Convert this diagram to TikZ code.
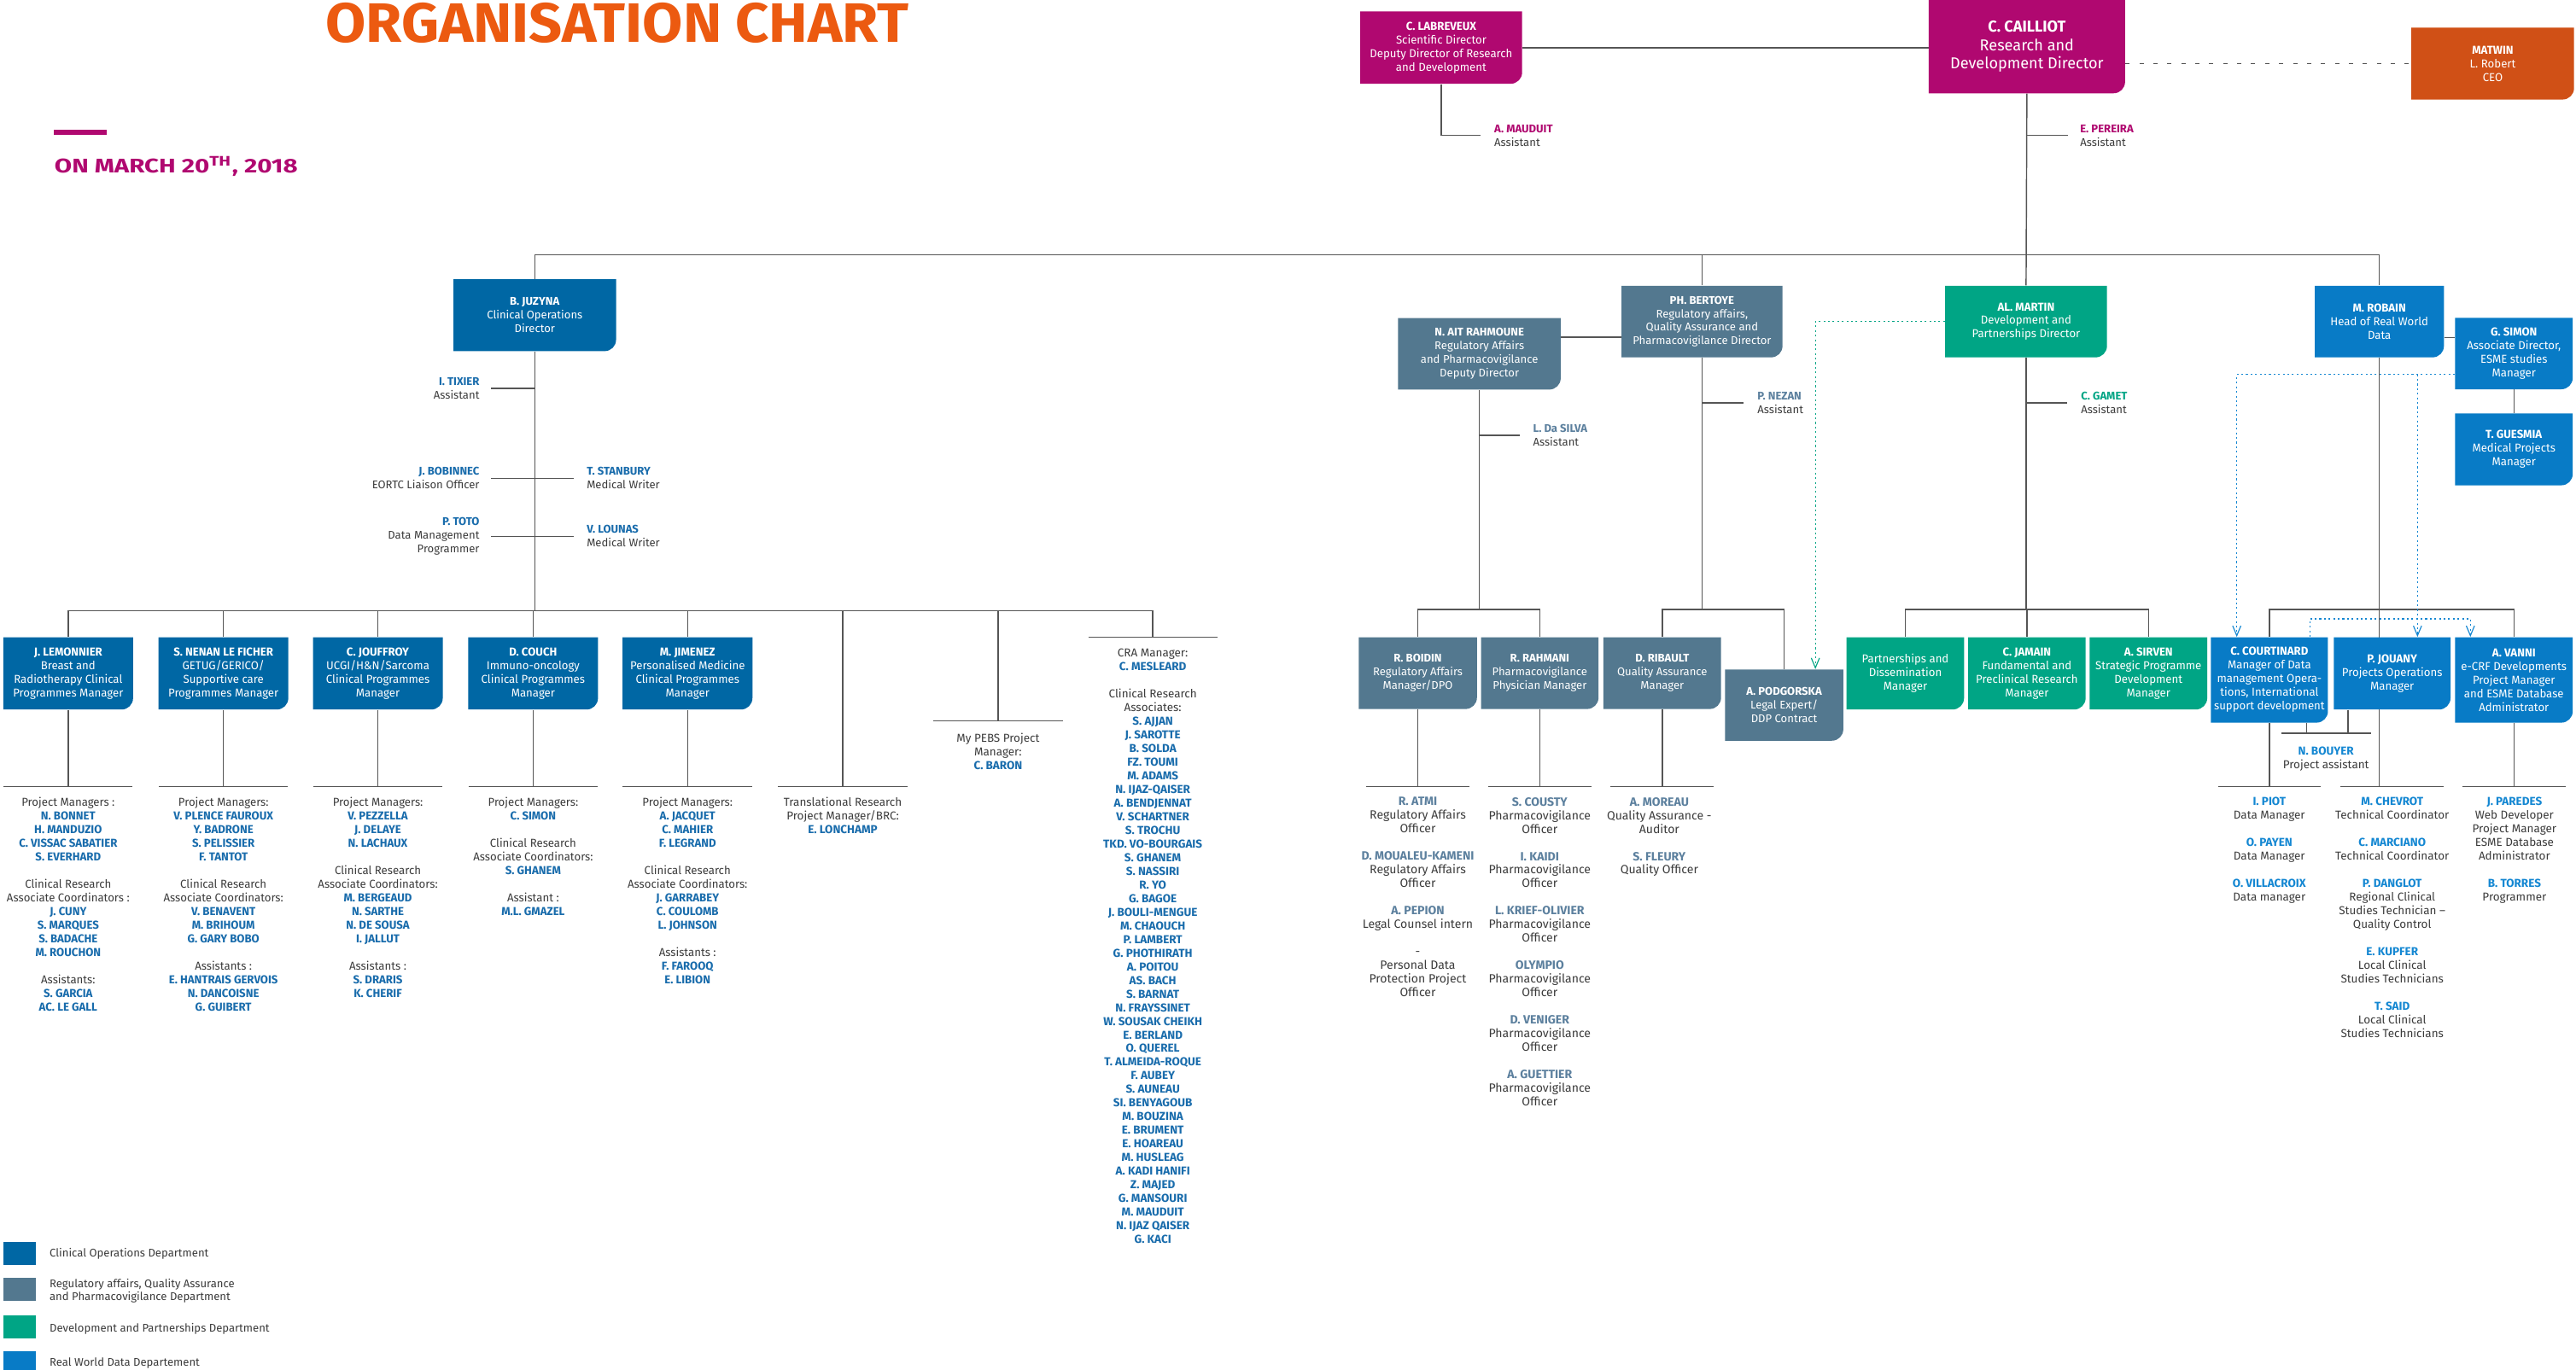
\documentclass[tikz,border=0pt]{standalone}
\usepackage{fontspec}
\usepackage{graphicx}
\setmainfont{Fira Sans}
\newfontfamily\condfont[FakeStretch=0.98]{Fira Sans}
\newfontfamily\headfont[FakeStretch=0.84]{Fira Sans}
\usetikzlibrary{arrows.meta}

\definecolor{magbox}{RGB}{176,8,112}
\definecolor{matwinbox}{RGB}{208,80,22}
\definecolor{titleorange}{RGB}{236,90,16}
\definecolor{clinbox}{RGB}{0,103,164}
\definecolor{regbox}{RGB}{83,120,143}
\definecolor{devbox}{RGB}{0,165,133}
\definecolor{rwdbox}{RGB}{8,123,198}
\definecolor{clinname}{RGB}{25,108,172}
\definecolor{regname}{RGB}{92,128,158}
\definecolor{rwdname}{RGB}{20,135,210}
\definecolor{labelgray}{RGB}{60,60,60}
\definecolor{linegray}{RGB}{85,85,85}

% coloured names in the lists
\newcommand\cn[1]{{\bfseries\color{clinname}#1}}
\newcommand\rn[1]{{\bfseries\color{regname}#1}}
\newcommand\gn[1]{{\bfseries\color{devbox}#1}}
\newcommand\wn[1]{{\bfseries\color{rwdname}#1}}
\newcommand\pn[1]{{\bfseries\color{magbox}#1}}

% box with a rounded lower right corner: name, x1, y1, x2, y2, colour, style, text
\newcommand\orgbox[8]{%
  \fill[#6] (#2,#3) -- (#4,#3) -- (#4,#5-7) .. controls (#4,#5-3.1) and (#4-3.1,#5) .. (#4-7,#5) -- (#2,#5) -- cycle;
  \node[#7, minimum width={(#4-#2)*1pt}, minimum height={(#5-#3)*1pt}] (#1) at ({(#2+#4)/2},{(#3+#5)/2}) {#8};
}

\pgfdeclarelayer{bg}
\pgfdeclarelayer{conn}
\pgfsetlayers{bg,conn,main}

\tikzset{
  conn/.style={draw=linegray, line width=0.75pt},
  devdot/.style={draw=devbox, line width=0.6pt, dash pattern=on 1.1pt off 1.7pt, -{Straight Barb[length=6pt,width=5pt]}},
  rwddot/.style={draw=rwdname, line width=0.6pt, dash pattern=on 1.1pt off 1.7pt},
  rwdarrow/.style={rwddot, -{Straight Barb[length=6pt,width=5pt]}},
  bx/.style={text=white, align=center, inner sep=0pt, font=\condfont\fontsize{7}{8.3}\selectfont},
  bxr/.style={bx, font=\fontsize{6.8}{8.3}\selectfont},
  lst/.style={anchor=north, align=center, inner sep=0pt, text=labelgray, font=\condfont\fontsize{7}{8.3}\selectfont},
  lstr/.style={lst, font=\fontsize{7}{8.3}\selectfont},
  lstreg/.style={lst, font=\fontsize{7.3}{8.3}\selectfont},
  asst/.style={inner sep=0pt, text=labelgray, font=\fontsize{6.8}{8.3}\selectfont},
  legtxt/.style={inner sep=0pt, anchor=west, align=left, text=labelgray, font=\fontsize{6.8}{8.2}\selectfont},
}

\begin{document}
\begin{tikzpicture}[x=1pt, y=-1pt]
\useasboundingbox (0,0) rectangle (1568,834);
\begin{pgfonlayer}{bg}
  \fill[white] (0,0) rectangle (1568,834);
\end{pgfonlayer}

% heading
\node[anchor=north west, inner sep=0pt] (title) at (198,1.7)
  {\resizebox{355pt}{24pt}{\color{titleorange}\headfont\bfseries ORGANISATION CHART}};
\fill[magbox] (33,78.8) rectangle (65,82);
\node[anchor=north west, inner sep=0pt] (date) at (33,95)
  {\resizebox{148pt}{10.2pt}{\color{magbox}\headfont\bfseries ON MARCH 20\textsuperscript{TH}, 2018}};

% direction
\orgbox{labreveux}{828}{7}{926.5}{51}{magbox}{bx}{\textbf{C. LABREVEUX}\\Scientific Director\\Deputy Director of Research\\and Development}
\orgbox{cailliot}{1174}{0}{1293.5}{56.8}{magbox}{bx, font=\condfont\fontsize{9.6}{11.2}\selectfont}{\textbf{C. CAILLIOT}\\Research and\\Development Director}
\orgbox{matwin}{1467.8}{16.8}{1566.8}{60.6}{matwinbox}{bx}{\textbf{MATWIN}\\L. Robert\\CEO}
\node[asst, anchor=west, align=left] (mauduit) at (909.4,82.5) {\pn{A. MAUDUIT}\\Assistant};
\node[asst, anchor=west, align=left] (pereira) at (1266,82.5) {\pn{E. PEREIRA}\\Assistant};

% clinical operations
\orgbox{juzyna}{276}{170}{375}{213.8}{clinbox}{bxr}{\textbf{B. JUZYNA}\\Clinical Operations\\Director}
\node[asst, anchor=east, align=right] (tixier) at (292,236.5) {\cn{I. TIXIER}\\Assistant};
\node[asst, anchor=east, align=right] (bobinnec) at (292,291.2) {\cn{J. BOBINNEC}\\EORTC Liaison Officer};
\node[asst, anchor=west, align=left] (stanbury) at (357,291.2) {\cn{T. STANBURY}\\Medical Writer};
\node[asst, anchor=east, align=right] (toto) at (292,326.6) {\cn{P. TOTO}\\Data Management\\Programmer};
\node[asst, anchor=west, align=left] (lounas) at (357,326.6) {\cn{V. LOUNAS}\\Medical Writer};

\orgbox{lemonnier}{2}{388}{81}{432}{clinbox}{bx}{\textbf{J. LEMONNIER}\\Breast and\\Radiotherapy Clinical\\Programmes Manager}
\orgbox{nenan}{96.5}{388}{175.5}{432}{clinbox}{bx}{\textbf{S. NENAN LE FICHER}\\GETUG/GERICO/\\Supportive care\\Programmes Manager}
\orgbox{jouffroy}{190.5}{388}{269.5}{432}{clinbox}{bx}{\textbf{C. JOUFFROY}\\UCGI/H\&N/Sarcoma\\Clinical Programmes\\Manager}
\orgbox{couch}{285}{388}{364}{432}{clinbox}{bx}{\textbf{D. COUCH}\\Immuno-oncology\\Clinical Programmes\\Manager}
\orgbox{jimenez}{379}{388}{458}{432}{clinbox}{bx}{\textbf{M. JIMENEZ}\\Personalised Medicine\\Clinical Programmes\\Manager}

\node[lst] (lemlist) at (41.5,485.3) {Project Managers :\\\cn{N. BONNET}\\\cn{H. MANDUZIO}\\\cn{C. VISSAC SABATIER}\\\cn{S. EVERHARD}\\[8.3pt]Clinical Research\\Associate Coordinators :\\\cn{J. CUNY}\\\cn{S. MARQUES}\\\cn{S. BADACHE}\\\cn{M. ROUCHON}\\[8.3pt]Assistants:\\\cn{S. GARCIA}\\\cn{AC. LE GALL}};
\node[lst] (nenanlist) at (136,485.3) {Project Managers:\\\cn{V. PLENCE FAUROUX}\\\cn{Y. BADRONE}\\\cn{S. PELISSIER}\\\cn{F. TANTOT}\\[8.3pt]Clinical Research\\Associate Coordinators:\\\cn{V. BENAVENT}\\\cn{M. BRIHOUM}\\\cn{G. GARY BOBO}\\[8.3pt]Assistants :\\\cn{E. HANTRAIS GERVOIS}\\\cn{N. DANCOISNE}\\\cn{G. GUIBERT}};
\node[lst] (jouffroylist) at (230,485.3) {Project Managers:\\\cn{V. PEZZELLA}\\\cn{J. DELAYE}\\\cn{N. LACHAUX}\\[8.3pt]Clinical Research\\Associate Coordinators:\\\cn{M. BERGEAUD}\\\cn{N. SARTHE}\\\cn{N. DE SOUSA}\\\cn{I. JALLUT}\\[8.3pt]Assistants :\\\cn{S. DRARIS}\\\cn{K. CHERIF}};
\node[lst] (couchlist) at (324.5,485.3) {Project Managers:\\\cn{C. SIMON}\\[8.3pt]Clinical Research\\Associate Coordinators:\\\cn{S. GHANEM}\\[8.3pt]Assistant :\\\cn{M.L. GMAZEL}};
\node[lst] (jimenezlist) at (418.5,485.3) {Project Managers:\\\cn{A. JACQUET}\\\cn{C. MAHIER}\\\cn{F. LEGRAND}\\[8.3pt]Clinical Research\\Associate Coordinators:\\\cn{J. GARRABEY}\\\cn{C. COULOMB}\\\cn{L. JOHNSON}\\[8.3pt]Assistants :\\\cn{F. FAROOQ}\\\cn{E. LIBION}};

\coordinate (transrule) at (513,479);
\coordinate (pebsrule) at (607.5,439);
\coordinate (crarule) at (701.7,388);
\node[lstr] (translist) at (513,485) {Translational Research\\Project Manager/BRC:\\\cn{E. LONCHAMP}};
\node[lstr] (pebslist) at (607.5,446.3) {My PEBS Project\\Manager:\\\cn{C. BARON}};
\node[lstr] (cralist) at (701.7,395) {CRA Manager:\\\cn{C. MESLEARD}\\[8.3pt]Clinical Research\\Associates:\\\cn{S. AJJAN}\\\cn{J. SAROTTE}\\\cn{B. SOLDA}\\\cn{FZ. TOUMI}\\\cn{M. ADAMS}\\\cn{N. IJAZ-QAISER}\\\cn{A. BENDJENNAT}\\\cn{V. SCHARTNER}\\\cn{S. TROCHU}\\\cn{TKD. VO-BOURGAIS}\\\cn{S. GHANEM}\\\cn{S. NASSIRI}\\\cn{R. YO}\\\cn{G. BAGOE}\\\cn{J. BOULI-MENGUE}\\\cn{M. CHAOUCH}\\\cn{P. LAMBERT}\\\cn{G. PHOTHIRATH}\\\cn{A. POITOU}\\\cn{AS. BACH}\\\cn{S. BARNAT}\\\cn{N. FRAYSSINET}\\\cn{W. SOUSAK CHEIKH}\\\cn{E. BERLAND}\\\cn{O. QUEREL}\\\cn{T. ALMEIDA-ROQUE}\\\cn{F. AUBEY}\\\cn{S. AUNEAU}\\\cn{SI. BENYAGOUB}\\\cn{M. BOUZINA}\\\cn{E. BRUMENT}\\\cn{E. HOAREAU}\\\cn{M. HUSLEAG}\\\cn{A. KADI HANIFI}\\\cn{Z. MAJED}\\\cn{G. MANSOURI}\\\cn{M. MAUDUIT}\\\cn{N. IJAZ QAISER}\\\cn{G. KACI}};

% regulatory affairs, quality assurance and pharmacovigilance
\orgbox{bertoye}{987}{174}{1085}{217.6}{regbox}{bxr}{\textbf{PH. BERTOYE}\\Regulatory affairs,\\Quality Assurance and\\Pharmacovigilance Director}
\orgbox{rahmoune}{851}{193.6}{950}{237.2}{regbox}{bxr}{\textbf{N. AIT RAHMOUNE}\\Regulatory Affairs\\and Pharmacovigilance\\Deputy Director}
\node[asst, anchor=west, align=left] (dasilva) at (933,265) {\rn{L. Da SILVA}\\Assistant};
\node[asst, anchor=west, align=left] (nezan) at (1069.6,245.4) {\rn{P. NEZAN}\\Assistant};
\orgbox{boidin}{827}{388}{899}{431.7}{regbox}{bxr}{\textbf{R. BOIDIN}\\Regulatory Affairs\\Manager/DPO}
\orgbox{rahmani}{901.5}{388}{973}{431.7}{regbox}{bxr}{\textbf{R. RAHMANI}\\Pharmacovigilance\\Physician Manager}
\orgbox{ribault}{976}{388}{1047.6}{431.7}{regbox}{bxr}{\textbf{D. RIBAULT}\\Quality Assurance\\Manager}
\orgbox{podgorska}{1050}{407.6}{1122}{451}{regbox}{bxr}{\textbf{A. PODGORSKA}\\Legal Expert/\\DDP Contract}

\node[lstreg] (boidinlist) at (863,485.3) {\rn{R. ATMI}\\Regulatory Affairs\\Officer\\[8.3pt]\rn{D. MOUALEU-KAMENI}\\Regulatory Affairs\\Officer\\[8.3pt]\rn{A. PEPION}\\Legal Counsel intern\\[8.3pt]-\\Personal Data\\Protection Project\\Officer};
\node[lstreg] (rahmanilist) at (937.2,485.3) {\rn{S. COUSTY}\\Pharmacovigilance\\Officer\\[8.3pt]\rn{I. KAIDI}\\Pharmacovigilance\\Officer\\[8.3pt]\rn{L. KRIEF-OLIVIER}\\Pharmacovigilance\\Officer\\[8.3pt]\rn{OLYMPIO}\\Pharmacovigilance\\Officer\\[8.3pt]\rn{D. VENIGER}\\Pharmacovigilance\\Officer\\[8.3pt]\rn{A. GUETTIER}\\Pharmacovigilance\\Officer};
\node[lstreg] (ribaultlist) at (1010,485.3) {\rn{A. MOREAU}\\Quality Assurance -\\Auditor\\[8.3pt]\rn{S. FLEURY}\\Quality Officer};

% development and partnerships
\orgbox{martin}{1184}{174}{1282.5}{217.6}{devbox}{bx}{\textbf{AL. MARTIN}\\Development and\\Partnerships Director}
\node[asst, anchor=west, align=left] (gamet) at (1266.5,245.3) {\gn{C. GAMET}\\Assistant};
\orgbox{partners}{1124}{388}{1195.5}{432}{devbox}{bx}{Partnerships and\\Dissemination\\Manager}
\orgbox{jamain}{1198}{388}{1269.5}{432}{devbox}{bx}{\textbf{C. JAMAIN}\\Fundamental and\\Preclinical Research\\Manager}
\orgbox{sirven}{1272}{388}{1343.5}{432}{devbox}{bx}{\textbf{A. SIRVEN}\\Strategic Programme\\Development\\Manager}

% real world data
\orgbox{robain}{1409}{174}{1487.6}{217.6}{rwdbox}{bx}{\textbf{M. ROBAIN}\\Head of Real World\\Data}
\orgbox{gsimon}{1494.4}{193.5}{1566}{237}{rwdbox}{bx}{\textbf{G. SIMON}\\Associate Director,\\ESME studies\\Manager}
\orgbox{guesmia}{1494.4}{251.7}{1566}{295.5}{rwdbox}{bx}{\textbf{T. GUESMIA}\\Medical Projects\\Manager}
\orgbox{courtinard}{1345.7}{388}{1417}{440}{rwdbox}{bx}{\textbf{C. COURTINARD}\\Manager of Data\\management Opera-\\tions, International\\support development}
\orgbox{jouany}{1420.6}{388}{1491.6}{432}{rwdbox}{bx}{\textbf{P. JOUANY}\\Projects Operations\\Manager}
\orgbox{vanni}{1494.4}{388}{1566}{440}{rwdbox}{bx}{\textbf{A. VANNI}\\e-CRF Developments\\Project Manager\\and ESME Database\\Administrator}
\node[lstr] (bouyer) at (1415.8,454.3) {\wn{N. BOUYER}\\Project assistant};
\node[lstr] (piotlist) at (1381.3,485.3) {\wn{I. PIOT}\\Data Manager\\[8.3pt]\wn{O. PAYEN}\\Data Manager\\[8.3pt]\wn{O. VILLACROIX}\\Data manager};
\node[lstr] (chevrotlist) at (1456.1,485.3) {\wn{M. CHEVROT}\\Technical Coordinator\\[8.3pt]\wn{C. MARCIANO}\\Technical Coordinator\\[8.3pt]\wn{P. DANGLOT}\\Regional Clinical\\Studies Technician –\\Quality Control\\[8.3pt]\wn{E. KUPFER}\\Local Clinical\\Studies Technicians\\[8.3pt]\wn{T. SAID}\\Local Clinical\\Studies Technicians};
\node[lstr] (paredeslist) at (1530.5,485.3) {\wn{J. PAREDES}\\Web Developer\\Project Manager\\ESME Database\\Administrator\\[8.3pt]\wn{B. TORRES}\\Programmer};

% legend
\fill[clinbox] (2,756.4) rectangle (22,770.3);
\node[legtxt] (leg1) at (30,763.5) {Clinical Operations Department};
\fill[regbox] (2,778) rectangle (22,792);
\node[legtxt] (leg2) at (30,786) {Regulatory affairs, Quality Assurance\\and Pharmacovigilance Department};
\fill[devbox] (2,800.8) rectangle (22,814.8);
\node[legtxt] (leg3) at (30,809) {Development and Partnerships Department};
\fill[rwdbox] (2,822.8) rectangle (22,836);
\node[legtxt] (leg4) at (30,830) {Real World Data Departement};

% connectors, beneath the boxes
\begin{pgfonlayer}{conn}
\coordinate (mainbus) at (0,155);
\coordinate (leftbus) at (0,372);
\coordinate (midbus) at (0,371);
\coordinate (listrule) at (0,479);
\coordinate (bouyerrule) at (1415.8,446.5);

\draw[conn] (labreveux.east) -- (labreveux.east -| cailliot.west);
\draw[draw=linegray, line width=0.9pt, dash pattern=on 2.6pt off 5.9pt] (cailliot.east |- matwin.west) -- (matwin.west);
\draw[conn] (labreveux.south) |- ([xshift=-8pt]mauduit.west);
\draw[conn] (cailliot.south |- pereira.west) -- ([xshift=-7pt]pereira.west);
\draw[conn] (cailliot.south) -- (martin.north);
\draw[conn] (juzyna.north) |- (robain.north |- mainbus) -- (robain.north);
\draw[conn] (bertoye.north) -- (bertoye.north |- mainbus);

% clinical operations
\draw[conn] (juzyna.south) -- (juzyna.south |- leftbus);
\draw[conn] (juzyna.south |- tixier.east) -- ([xshift=7pt]tixier.east);
\draw[conn] ([xshift=7pt]bobinnec.east) -- ([xshift=-8pt]stanbury.west);
\draw[conn] ([xshift=7pt]toto.east) -- ([xshift=-8pt]lounas.west);
\draw[conn] (lemonnier.north) |- (crarule |- leftbus) -- (crarule);
\foreach \b in {nenan,jouffroy,couch,jimenez}
  \draw[conn] (\b.north) -- (\b.north |- leftbus);
\foreach \b in {lemonnier,nenan,jouffroy,couch,jimenez}{
  \draw[conn] (\b.south) -- (\b.south |- listrule);
  \draw[conn] ([xshift=0.3pt]\b.south west |- listrule) -- ([xshift=-0.4pt]\b.south east |- listrule);
}
\draw[conn] (transrule |- leftbus) -- (transrule);
\draw[conn] (pebsrule |- leftbus) -- (pebsrule);
\draw[conn] ([xshift=-39.5pt]transrule) -- ([xshift=39.5pt]transrule);
\draw[conn] ([xshift=-39.5pt]pebsrule) -- ([xshift=39.5pt]pebsrule);
\draw[conn] ([xshift=-39.2pt]crarule) -- ([xshift=39.3pt]crarule);

% regulatory
\draw[conn] ([yshift=10pt]rahmoune.east) -- ([yshift=10pt]rahmoune.east -| bertoye.west);
\draw[conn] (rahmoune.south) -- (rahmoune.south |- midbus);
\draw[conn] (rahmoune.south |- dasilva.west) -- ([xshift=-8pt]dasilva.west);
\draw[conn] (bertoye.south) -- (bertoye.south |- midbus);
\draw[conn] (bertoye.south |- nezan.west) -- ([xshift=-8.6pt]nezan.west);
\draw[conn] (boidin.north) |- (rahmani.north |- midbus) -- (rahmani.north);
\draw[conn] (ribault.north) |- (podgorska.north |- midbus) -- (podgorska.north);
\foreach \b in {boidin,rahmani,ribault}{
  \draw[conn] (\b.south) -- (\b.south |- listrule);
  \draw[conn] ([xshift=-31.5pt]\b.south |- listrule) -- ([xshift=31.5pt]\b.south |- listrule);
}
\draw[devdot] (martin.west) -| ([xshift=19pt]podgorska.north);

% development
\draw[conn] (martin.south) -- (martin.south |- midbus);
\draw[conn] (martin.south |- gamet.west) -- ([xshift=-8.5pt]gamet.west);
\draw[conn] (partners.north) |- (sirven.north |- midbus) -- (sirven.north);
\draw[conn] (jamain.north) -- (jamain.north |- midbus);

% real world data
\draw[conn] ([yshift=-9.8pt]robain.east) -- ([yshift=-9.8pt]robain.east -| gsimon.west);
\draw[conn] (gsimon.south) -- (guesmia.north);
\draw[conn] (robain.south) -- (robain.south |- listrule);
\draw[conn] (courtinard.north) |- (vanni.north |- midbus) -- (vanni.north);
\draw[conn] (courtinard.south) -- (courtinard.south |- listrule);
\draw[conn] (vanni.south) -- (vanni.south |- listrule);
\draw[conn] ([xshift=-31.3pt]courtinard.south |- listrule) -- ([xshift=31.3pt]courtinard.south |- listrule);
\draw[conn] ([xshift=-31.4pt]jouany.south |- listrule) -- ([xshift=31.4pt]jouany.south |- listrule);
\draw[conn] ([xshift=-31.4pt]vanni.south |- listrule) -- ([xshift=31.4pt]vanni.south |- listrule);
\draw[conn] ([xshift=-27.2pt]bouyerrule) -- ([xshift=27.2pt]bouyerrule);
\draw[conn] ([xshift=22.65pt]courtinard.south) -- ([xshift=22.65pt]courtinard.south |- bouyerrule);
\draw[conn] ([xshift=-27pt]jouany.south) -- ([xshift=-27pt]jouany.south |- bouyerrule);

\coordinate (simondot) at ([yshift=-12.75pt]gsimon.west);
\draw[rwdarrow] (simondot) -| ([xshift=-19.85pt]courtinard.north);
\draw[rwdarrow] ([xshift=15.4pt]jouany.north |- simondot) -- ([xshift=15.4pt]jouany.north);
\draw[rwdarrow] ([xshift=24.65pt]courtinard.north) -- ([xshift=24.65pt,yshift=11pt]courtinard.north) -| ([xshift=-26.5pt]vanni.north);
\end{pgfonlayer}
\end{tikzpicture}
\end{document}
